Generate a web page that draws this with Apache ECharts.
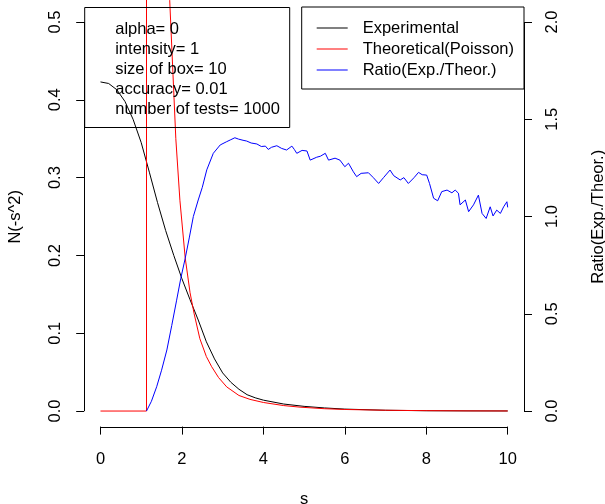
<!DOCTYPE html>
<html>
<head>
<meta charset="utf-8">
<script src="https://cdn.jsdelivr.net/npm/echarts@6/dist/echarts.min.js"></script>
<style>
  html, body { margin: 0; padding: 0; background: #fff; }
  #chart { width: 605px; height: 504px; }
</style>
</head>
<body>
<div id="chart"></div>
<script>
// values
const expS = [0, 0.2, 0.4, 0.6, 0.8, 1.0, 1.2, 1.4, 1.6, 1.8, 2.0, 2.2, 2.4, 2.6, 2.8, 3.0, 3.2, 3.4, 3.6, 3.8, 4.0, 4.5, 5.0, 5.5, 6.0, 7.0, 8.0, 9.0, 10.0];
const expN = [0.423, 0.421, 0.413, 0.398, 0.375, 0.345, 0.307, 0.268, 0.232, 0.200, 0.170, 0.143, 0.117, 0.089, 0.067, 0.049, 0.037, 0.028, 0.021, 0.017, 0.014, 0.009, 0.006, 0.004, 0.0025, 0.001, 0.0004, 0.0002, 0.0001];

const theoS = [0, 1.13, 1.13, 1.62, 1.70, 1.78, 1.85, 1.95, 2.08, 2.2, 2.3, 2.44, 2.6, 2.73, 2.9, 3.1, 3.4, 3.67, 4.0, 4.5, 4.9, 5.5, 6.0, 7.0, 8.0, 9.0, 10.0];
const theoN = [0, 0, 3.0, 0.628, 0.528, 0.433, 0.35, 0.271, 0.197, 0.152, 0.125, 0.093, 0.070, 0.057, 0.043, 0.031, 0.020, 0.015, 0.011, 0.007, 0.005, 0.003, 0.002, 0.001, 0.0005, 0.0002, 0.0001];

const ratioS = [1.13, 1.25, 1.38, 1.5, 1.63, 1.75, 1.87, 1.97, 2.08, 2.18, 2.28, 2.40, 2.5, 2.61, 2.77, 2.94, 3.1, 3.2, 3.3, 3.39, 3.5, 3.59, 3.7, 3.84, 3.95, 4.05, 4.12, 4.2, 4.33, 4.45, 4.57, 4.70, 4.76, 4.82, 4.95, 5.07, 5.15, 5.31, 5.4, 5.52, 5.6, 5.76, 5.88, 6.0, 6.09, 6.21, 6.29, 6.4, 6.58, 6.7, 6.83, 6.95, 7.11, 7.2, 7.36, 7.45, 7.56, 7.7, 7.81, 7.9, 8.01, 8.08, 8.18, 8.28, 8.38, 8.51, 8.63, 8.71, 8.79, 8.83, 8.96, 9.04, 9.16, 9.28, 9.37, 9.47, 9.57, 9.64, 9.73, 9.82, 9.9, 9.98, 10.0];
const ratioR = [0, 0.05, 0.125, 0.21, 0.314, 0.44, 0.57, 0.68, 0.785, 0.89, 1.0, 1.085, 1.15, 1.24, 1.325, 1.368, 1.385, 1.395, 1.405, 1.398, 1.392, 1.388, 1.378, 1.373, 1.36, 1.362, 1.345, 1.356, 1.364, 1.35, 1.342, 1.362, 1.345, 1.325, 1.34, 1.337, 1.29, 1.305, 1.31, 1.325, 1.29, 1.30, 1.29, 1.256, 1.274, 1.23, 1.205, 1.222, 1.225, 1.2, 1.17, 1.2, 1.239, 1.21, 1.188, 1.2, 1.17, 1.2, 1.227, 1.215, 1.213, 1.17, 1.094, 1.081, 1.128, 1.136, 1.122, 1.136, 1.12, 1.06, 1.085, 1.025, 1.06, 1.11, 1.016, 0.99, 1.05, 1.003, 1.033, 1.016, 1.05, 1.076, 1.047];

const xTicks = [0, 2, 4, 6, 8, 10];
const leftTicks = [0, 0.1, 0.2, 0.3, 0.4, 0.5];
const rightTicks = [0, 0.5, 1, 1.5, 2];
const seriesNames = ['Experimental', 'Theoretical(Poisson)', 'Ratio(Exp./Theor.)'];
const infoLines = ['alpha= 0', 'intensity= 1', 'size of box= 10', 'accuracy= 0.01', 'number of tests= 1000'];

const FS = 16.5;
const chart = echarts.init(document.getElementById('chart'), null, { renderer: 'canvas' });

function pairs(xs, ys) {
	return xs.map((x, i) => [x, ys[i]]);
}

const baseLabel = { color: '#000', fontSize: FS, fontFamily: 'Liberation Sans' };
// names on the y axes sit centred on the plot region, a bit below the grid middle
const yNameStyle = { ...baseLabel, padding: [0, 7, 0, 0] };

const option = {
	animation: false,
	backgroundColor: '#fff',
	textStyle: { fontFamily: 'Liberation Sans', color: '#000' },
	grid: { left: 84.2, right: 81, top: 0, bottom: 77.4, outerBoundsMode: 'none', containLabel: false },
	title: {
		text: infoLines.join('\n'),
		left: 84.2,
		top: 7,
		padding: [12, 10, 9, 31],
		borderColor: '#000',
		borderWidth: 1,
		textStyle: { fontWeight: 'normal', fontSize: FS, lineHeight: 20, color: '#000' }
	},
	legend: {
		data: seriesNames,
		orient: 'vertical',
		right: 81,
		top: 7,
		padding: [12.5, 10, 10.5, 15],
		itemGap: 4,
		itemWidth: 31,
		itemHeight: 1,
		icon: 'rect',
		borderColor: '#000',
		borderWidth: 1,
		backgroundColor: '#fff',
		textStyle: { color: '#000', fontSize: FS, padding: [0, 0, 0, 10] }
	},
	xAxis: {
		type: 'value',
		min: -0.4,
		max: 10.4,
		name: 's',
		nameLocation: 'middle',
		nameGap: 64,
		nameTextStyle: baseLabel,
		axisLine: { show: false, onZero: false },
		axisTick: { show: true, length: 8, customValues: xTicks, lineStyle: { color: '#000' } },
		axisLabel: { customValues: xTicks, margin: 24, ...baseLabel },
		splitLine: { show: false }
	},
	yAxis: [{
		type: 'value',
		min: -0.02,
		max: 0.5283,
		name: 'N(-s^2)',
		nameLocation: 'middle',
		nameGap: 60,
		nameTextStyle: yNameStyle,
		axisLine: { show: false, onZero: false },
		axisTick: { show: true, length: 8, customValues: leftTicks, lineStyle: { color: '#000' } },
		axisLabel: { customValues: leftTicks, rotate: 90, margin: 20, formatter: v => v.toFixed(1), ...baseLabel },
		splitLine: { show: false }
	}, {
		type: 'value',
		position: 'right',
		min: -0.08,
		max: 2.1132,
		name: 'Ratio(Exp./Theor.)',
		nameLocation: 'middle',
		nameGap: 66,
		nameTextStyle: yNameStyle,
		axisLine: { show: false, onZero: false },
		axisTick: { show: true, length: 8, customValues: rightTicks, lineStyle: { color: '#000' } },
		axisLabel: { customValues: rightTicks, rotate: 90, margin: 20, formatter: v => v.toFixed(1), ...baseLabel },
		splitLine: { show: false }
	}],
	series: [{
		name: seriesNames[0],
		type: 'line',
		data: pairs(expS, expN),
		showSymbol: false,
		lineStyle: { color: '#000', width: 1 },
		itemStyle: { color: '#000' }
	}, {
		name: seriesNames[1],
		type: 'line',
		data: pairs(theoS, theoN),
		showSymbol: false,
		lineStyle: { color: '#ff0000', width: 1 },
		itemStyle: { color: '#ff0000' }
	}, {
		name: seriesNames[2],
		type: 'line',
		yAxisIndex: 1,
		data: pairs(ratioS, ratioR),
		showSymbol: false,
		lineStyle: { color: '#0000ff', width: 1 },
		itemStyle: { color: '#0000ff' }
	}]
};

chart.setOption(option);

// R style axis lines: only between the first and last tick
function px(axis, v) {
	return chart.convertToPixel(axis, v);
}
const crisp = v => Math.round(v) + 0.5;
const xLeft = crisp(px({ xAxisIndex: 0 }, -0.4));
const xRight = crisp(px({ xAxisIndex: 0 }, 10.4));
const yBottom = crisp(px({ yAxisIndex: 0 }, -0.02));
const lineStyle = { stroke: '#000', lineWidth: 1 };

chart.setOption({
	graphic: [{
		type: 'line',
		shape: { x1: px({ xAxisIndex: 0 }, xTicks[0]), y1: yBottom, x2: px({ xAxisIndex: 0 }, xTicks[xTicks.length - 1]), y2: yBottom },
		style: lineStyle
	}, {
		type: 'line',
		shape: { x1: xLeft, y1: px({ yAxisIndex: 0 }, leftTicks[0]), x2: xLeft, y2: px({ yAxisIndex: 0 }, leftTicks[leftTicks.length - 1]) },
		style: lineStyle
	}, {
		type: 'line',
		shape: { x1: xRight, y1: px({ yAxisIndex: 1 }, rightTicks[0]), x2: xRight, y2: px({ yAxisIndex: 1 }, rightTicks[rightTicks.length - 1]) },
		style: lineStyle
	}]
});
</script>
</body>
</html>
